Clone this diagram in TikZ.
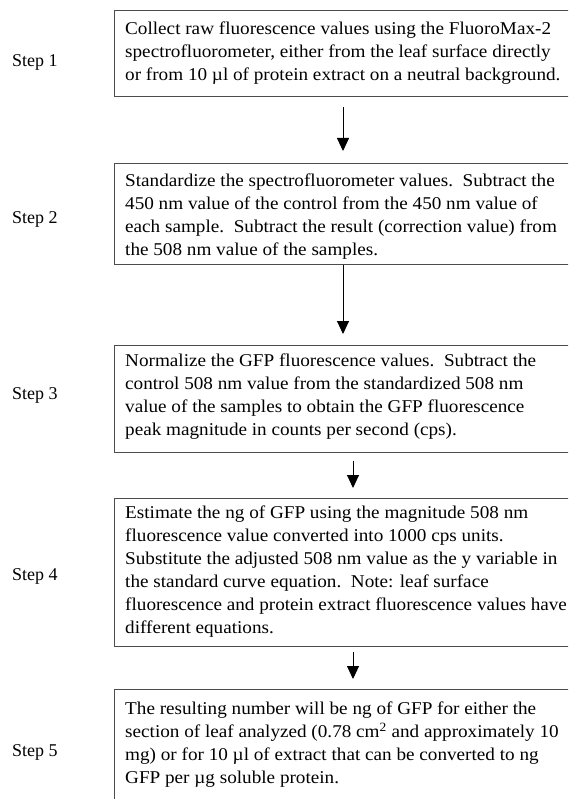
\documentclass[tikz,border=0pt]{standalone}
\usepackage{fontspec}
\setmainfont{Liberation Serif}
\newfontfamily\boxfont[FakeStretch=1.065]{Liberation Serif}
\usetikzlibrary{arrows.meta,calc}
\begin{document}
\begin{tikzpicture}[x=1pt,y=1pt,
  stepbox/.style={draw=black!70,line width=1.3pt,rectangle,inner sep=0pt,anchor=north west,minimum width=470pt},
  boxtext/.style={anchor=north west,inner sep=0pt,align=left,font=\boxfont\fontsize{18}{23}\selectfont},
  steplabel/.style={anchor=base west,inner sep=0pt,font=\fontsize{18}{23}\selectfont},
  arr/.style={line width=1pt,-{Triangle[length=13pt,width=12pt]}}]
\useasboundingbox (0,0) rectangle (568,-799);
\clip (0,0) rectangle (568,-799);
\fill[white] (0,0) rectangle (568,-799);
% boxes
\node[stepbox,minimum height=86pt] (b1) at (114,-10) {};
\node[stepbox,minimum height=101pt] (b2) at (114,-163) {};
\node[stepbox,minimum height=107pt] (b3) at (114,-344.5) {};
\node[stepbox,minimum height=148pt] (b4) at (114,-498) {};
\node[stepbox,minimum height=130pt] (b5) at (114,-689) {};
% texts
\node[boxtext] (t1) at ([xshift=11pt,yshift=-12pt]b1.north west) {Collect raw fluorescence values using the FluoroMax-2\\spectrofluorometer, either from the leaf surface directly\\or from 10 µl of protein extract on a neutral background.};
\node[boxtext] (t2) at ([xshift=11pt,yshift=-11pt]b2.north west) {Standardize the spectrofluorometer values.\ \ Subtract the\\450 nm value of the control from the 450 nm value of\\each sample.\ \ Subtract the result (correction value) from\\the 508 nm value of the samples.};
\node[boxtext] (t3) at ([xshift=11pt,yshift=-9pt]b3.north west) {Normalize the GFP fluorescence values.\ \ Subtract the\\control 508 nm value from the standardized 508 nm\\value of the samples to obtain the GFP fluorescence\\peak magnitude in counts per second (cps).};
\node[boxtext] (t4) at ([xshift=11pt,yshift=-8pt]b4.north west) {Estimate the ng of GFP using the magnitude 508 nm\\fluorescence value converted into 1000 cps units.\\Substitute the adjusted 508 nm value as the y variable in\\the standard curve equation.\ \ Note: leaf surface\\fluorescence and protein extract fluorescence values have\\different equations.};
\node[boxtext] (t5) at ([xshift=11pt,yshift=-13pt]b5.north west) {The resulting number will be ng of GFP for either the\\section of leaf analyzed (0.78 cm\textsuperscript{2} and approximately 10\\mg) or for 10 µl of extract that can be converted to ng\\GFP per µg soluble protein.};
% step labels
\node[steplabel] (s1) at (12,-66.5) {Step 1};
\node[steplabel] (s2) at (12,-224) {Step 2};
\node[steplabel] (s3) at (12,-399) {Step 3};
\node[steplabel] (s4) at (12,-580) {Step 4};
\node[steplabel] (s5) at (12,-756) {Step 5};
% arrow columns
\coordinate (ca) at (343,0);
\coordinate (cb) at (353,0);
\draw[arr,shorten <=9.5pt,shorten >=12pt] (b1.south -| ca) -- (b2.north -| ca);
\draw[arr,shorten >=10.5pt] (b2.south -| ca) -- (b3.north -| ca);
\draw[arr,shorten <=8.5pt,shorten >=10pt] (b3.south -| cb) -- (b4.north -| cb);
\draw[arr,shorten <=5pt,shorten >=10pt] (b4.south -| cb) -- (b5.north -| cb);
\end{tikzpicture}
\end{document}
